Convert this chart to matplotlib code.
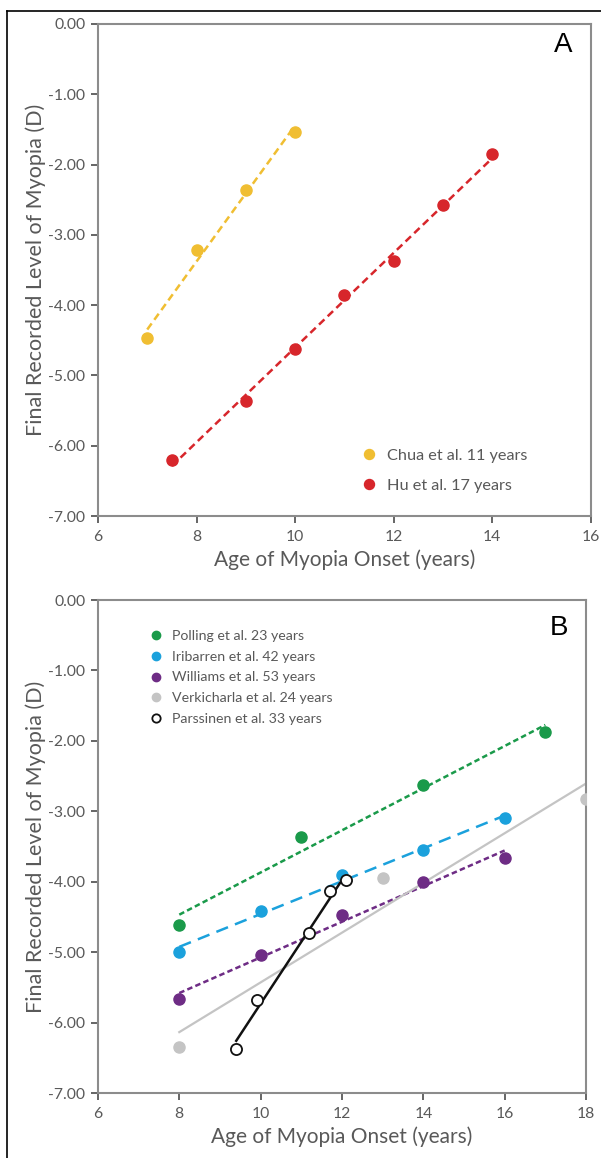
"""
Final recorded myopia vs age of onset, two panels (A: Chua, Hu; B: five cohorts).
Trend lines are ordinary least-squares fits over each series' range.
"""

import numpy as np
import matplotlib.pyplot as plt
from matplotlib.lines import Line2D

# ---- Panel A data
chua_age = [7, 8, 9, 10]
chua_se = [-4.47, -3.22, -2.36, -1.53]
hu_age = [7.5, 9, 10, 11, 12, 13, 14]
hu_se = [-6.20, -5.37, -4.63, -3.86, -3.37, -2.57, -1.85]

# ---- Panel B data
polling_age = [8, 11, 14, 17]
polling_se = [-4.62, -3.36, -2.63, -1.87]
iribarren_age = [8, 10, 12, 14, 16]
iribarren_se = [-5.00, -4.41, -3.90, -3.55, -3.10]
williams_age = [8, 10, 12, 14, 16]
williams_se = [-5.67, -5.04, -4.47, -4.00, -3.66]
verk_age = [8, 13, 18]
verk_se = [-6.35, -3.94, -2.82]
pars_age = [9.4, 9.9, 11.2, 11.7, 12.1]
pars_se = [-6.37, -5.68, -4.73, -4.13, -3.97]

y_ticks = [0, -1, -2, -3, -4, -5, -6, -7]

FONT = 'Lato'
TICK_COL = '#595959'
SPINE_COL = '#8c8c8c'


def trend(ax, x, y, color, ls, lw=1.8, dashes=None):
    """Linear trend line over the data's x range."""
    m, c = np.polyfit(x, y, 1)
    xs = np.array([min(x), max(x)])
    line, = ax.plot(xs, m * xs + c, color=color, lw=lw, ls=ls, zorder=2)
    if dashes is not None:
        line.set_dashes(dashes)


def style_axes(ax, xticks):
    ax.set_ylim(-7, 0)
    ax.set_yticks(y_ticks)
    ax.set_yticklabels([f'{v:.2f}' if v != 0 else '0.00' for v in y_ticks])
    ax.set_xlim(xticks[0], xticks[-1])
    ax.set_xticks(xticks)
    for s in ax.spines.values():
        s.set_color(SPINE_COL)
        s.set_linewidth(1.5)
    ax.tick_params(colors=TICK_COL, labelsize=11.3, length=5, width=1.3,
                   direction='out', pad=5)
    ax.tick_params(axis='y', pad=4)
    for lab in ax.get_xticklabels() + ax.get_yticklabels():
        lab.set_fontfamily(FONT)
    ax.set_xlabel('Age of Myopia Onset (years)', fontsize=15,
                  color=TICK_COL, family=FONT, labelpad=4)
    ax.set_ylabel('Final Recorded Level of Myopia (D)', fontsize=15.5,
                  color=TICK_COL, family=FONT, labelpad=2)


def main():
    fig = plt.figure(figsize=(6.01, 11.58), dpi=100)
    axA = fig.add_axes([0.163, 0.5544, 0.820, 0.4249])
    axB = fig.add_axes([0.163, 0.0561, 0.812, 0.4257])

    # ---- Panel A
    trend(axA, chua_age, chua_se, '#F0BE32', '--', dashes=(3, 1.8))
    trend(axA, hu_age, hu_se, '#D7262B', '--', dashes=(3, 1.8))
    axA.plot(chua_age, chua_se, 'o', color='#F0BE32', ms=8, zorder=3,
             label='Chua et al. 11 years')
    axA.plot(hu_age, hu_se, 'o', color='#D7262B', ms=8, zorder=3,
             label='Hu et al. 17 years')
    style_axes(axA, [6, 8, 10, 12, 14, 16])
    axA.text(0.945, 0.957, 'A', transform=axA.transAxes, fontsize=20,
             family='Liberation Sans', ha='center', va='center')
    legA = axA.legend(loc='center left', bbox_to_anchor=(0.51, 0.092),
                      frameon=False, fontsize=11.7, handlelength=1.0,
                      handletextpad=0.6, labelspacing=0.95, markerscale=0.9,
                      borderpad=0.2)
    for t in legA.get_texts():
        t.set_color(TICK_COL)
        t.set_fontfamily(FONT)

    # ---- Panel B
    trend(axB, polling_age, polling_se, '#1A9A4A', '--', dashes=(2.2, 1.3))
    trend(axB, iribarren_age, iribarren_se, '#1BA1DC', '--', dashes=(5, 3))
    trend(axB, williams_age, williams_se, '#6E2C85', '--', dashes=(2.2, 1.3))
    trend(axB, verk_age, verk_se, '#C4C4C4', '-', lw=1.6)
    trend(axB, pars_age, pars_se, '#111111', '-', lw=1.8)
    axB.plot(polling_age, polling_se, 'o', color='#1A9A4A', ms=8, zorder=3,
             label='Polling et al. 23 years')
    axB.plot(iribarren_age, iribarren_se, 'o', color='#1BA1DC', ms=8,
             zorder=3, label='Iribarren et al. 42 years')
    axB.plot(williams_age, williams_se, 'o', color='#6E2C85', ms=8,
             zorder=3, label='Williams et al. 53 years')
    axB.plot(verk_age, verk_se, 'o', color='#C4C4C4', ms=8, zorder=3,
             label='Verkicharla et al. 24 years')
    axB.plot(pars_age, pars_se, 'o', mfc='white', mec='#111111', mew=1.3,
             ms=8, zorder=4, label='Parssinen et al. 33 years')
    style_axes(axB, [6, 8, 10, 12, 14, 16, 18])
    axB.text(0.945, 0.943, 'B', transform=axB.transAxes, fontsize=20,
             family='Liberation Sans', ha='center', va='center')
    legB = axB.legend(loc='center left', bbox_to_anchor=(0.085, 0.843),
                      frameon=False, fontsize=10.2, handlelength=1.0,
                      handletextpad=0.6, labelspacing=0.62, markerscale=0.75,
                      borderpad=0.2)
    for t in legB.get_texts():
        t.set_color(TICK_COL)
        t.set_fontfamily(FONT)

    # outer frame (left and top edges)
    fx = 7 / 601
    fy = 1 - 11 / 1158
    fig.add_artist(Line2D([fx, fx], [0, fy], color='black', lw=1.2))
    fig.add_artist(Line2D([fx, 1], [fy, fy], color='black', lw=1.2))

    fig.savefig('out.png', dpi=100)


if __name__ == "__main__":
    main()
